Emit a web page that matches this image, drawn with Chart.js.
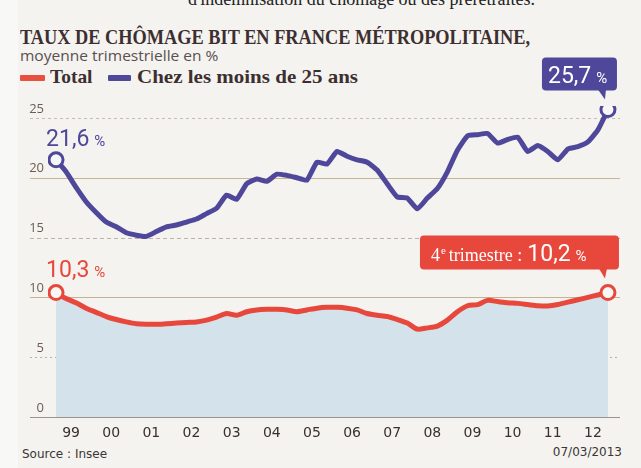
<!DOCTYPE html>
<html>
<head>
<meta charset="utf-8">
<script src="https://cdn.jsdelivr.net/npm/chart.js@4.4.1/dist/chart.umd.min.js"></script>
<style>
  html, body { margin: 0; padding: 0; }
  body { width: 641px; height: 468px; background: #f4f3ef; position: relative; overflow: hidden; }
  #strip { position: absolute; left: 0; top: 0; width: 18px; height: 468px; background: #f8f8f6; }
  #cut { position: absolute; left: 0; width: 641px; top: -11px; text-align: center; padding-left: 82px; box-sizing: border-box;
         font: 18px "Liberation Serif", serif; color: #222; white-space: nowrap; }
  #title { position: absolute; left: 20px; top: 25px; font: bold 21px "Liberation Serif", serif; color: #3d2f2f;
           white-space: nowrap; transform-origin: 0 0; }
  #subtitle { position: absolute; left: 20px; top: 46px; font: 14.5px "Open Sans", sans-serif; color: #5a5050; white-space: nowrap;
              transform-origin: 0 0; }
  .leg { position: absolute; top: 66px; font: bold 19px "Liberation Serif", serif; color: #3d2f2f; white-space: nowrap;
         transform-origin: 0 0; }
  .sw { position: absolute; top: 75px; height: 6px; border-radius: 1px; }
  #src { position: absolute; left: 22px; top: 447px; font: 12px "DejaVu Sans", sans-serif; color: #3b3535; }
  #date { position: absolute; right: 19px; top: 445px; font: 12px "DejaVu Sans", sans-serif; color: #3b3535; }
  canvas { position: absolute; left: 0; top: 0; }
</style>
</head>
<body>
<div id="strip"></div>
<div id="cut">d'indemnisation du chômage ou des préretraites.</div>
<div id="title">TAUX DE CHÔMAGE BIT EN FRANCE MÉTROPOLITAINE,</div>
<div id="subtitle">moyenne trimestrielle en %</div>
<div class="sw" style="left:20px;width:25px;background:#e8503f"></div>
<div class="leg" id="legTotal" style="left:50px">Total</div>
<div class="sw" style="left:108px;width:23px;background:#4f4a98"></div>
<div class="leg" id="legYouth" style="left:137px">Chez les moins de 25 ans</div>
<div id="src">Source : Insee</div>
<div id="date">07/03/2013</div>
<canvas id="chart" width="641" height="468"></canvas>
<script>
const years = [1999, 2000, 2001, 2002, 2003, 2004, 2005, 2006, 2007, 2008, 2009, 2010, 2011, 2012];
const yearLabels = ['99', '00', '01', '02', '03', '04', '05', '06', '07', '08', '09', '10', '11', '12'];
const quarters = [];
years.forEach(y => { for (let q = 1; q <= 4; q++) quarters.push(y + ' T' + q); });

// taux de chômage, ensemble
const total = [
    10.4, 9.9, 9.55, 9.1, 8.75, 8.4, 8.15, 7.95, 7.8, 7.75, 7.75, 7.8, 7.85, 7.9,
    7.95, 8.1, 8.35, 8.65, 8.5, 8.8, 8.95, 9.0, 9.0, 8.95, 8.8, 8.95, 9.1, 9.17,
    9.17, 9.1, 8.95, 8.65, 8.5, 8.4, 8.15, 7.85, 7.35, 7.45, 7.6, 8.1, 8.8, 9.3,
    9.4, 9.75, 9.65, 9.55, 9.5, 9.4, 9.3, 9.28, 9.4, 9.6, 9.8, 10.0, 10.2, 10.4
];
// moins de 25 ans
const youth = [
    21.5, 20.5, 19.2, 18.0, 17.1, 16.3, 15.9, 15.4, 15.2, 15.1, 15.5, 15.9, 16.05, 16.3,
    16.55, 17.0, 17.45, 18.55, 18.2, 19.5, 19.9, 19.7, 20.3, 20.2, 20.0, 19.8, 21.3, 21.15,
    22.2, 21.8, 21.5, 21.3, 20.65, 19.5, 18.4, 18.3, 17.4, 18.3, 19.1, 20.5, 22.3, 23.5,
    23.6, 23.7, 22.9, 23.2, 23.4, 22.2, 22.7, 22.2, 21.5, 22.4, 22.6, 23.0, 24.0, 25.7
];
const yTicks = [0, 5, 10, 15, 20, 25];
const firstLabels = { total: '10,3', youth: '21,6' };
const lastLabels = { total: '10,2', youth: '25,7' };

const RED = '#e8473c';
const BLUE = '#4f4799';

// squeeze the header texts to the widths of the print
function fitWidth(id, w) {
    const el = document.getElementById(id);
    el.style.transform = 'scaleX(' + (w / el.offsetWidth) + ')';
}
fitWidth('title', 510);
fitWidth('subtitle', 198);
fitWidth('legTotal', 43);
fitWidth('legYouth', 221);

function qx(label) {
    const [y, q] = label.split(' T');
    return +y + (q - 1) / 4;
}
const toPoints = arr => arr.map((v, i) => ({ x: qx(quarters[i]), y: v }));
const endsOnly = n => ctx => (ctx.dataIndex === 0 || ctx.dataIndex === n - 1) ? 7 : 0;

// grid lines in the paper's mixed styles
const gridPlugin = {
    id: 'paperGrid',
    beforeDatasetsDraw(chart) {
        const { ctx, chartArea, scales } = chart;
        const styles = {
            0: { c: '#9c948c', d: [] },
            5: { c: '#b9b1a7', d: [2, 3] },
            10: { c: '#c4b291', d: [] },
            15: { c: '#bcb3a8', d: [4, 3] },
            20: { c: '#c9b591', d: [] },
            25: { c: '#c6bdb2', d: [3, 3] },
        };
        ctx.save();
        yTicks.forEach(v => {
            const y = Math.round(scales.y.getPixelForValue(v)) + 0.5;
            const s = styles[v];
            ctx.strokeStyle = s.c;
            ctx.setLineDash(s.d);
            ctx.lineWidth = 1;
            ctx.beginPath();
            ctx.moveTo(30, y);
            ctx.lineTo(chartArea.right, y);
            ctx.stroke();
        });
        ctx.restore();
    }
};

function roundRect(ctx, x, y, w, h, r) {
    ctx.beginPath();
    ctx.moveTo(x + r, y);
    ctx.arcTo(x + w, y, x + w, y + h, r);
    ctx.arcTo(x + w, y + h, x, y + h, r);
    ctx.arcTo(x, y + h, x, y, r);
    ctx.arcTo(x, y, x + w, y, r);
    ctx.closePath();
}

const labelPlugin = {
    id: 'endLabels',
    afterDatasetsDraw(chart) {
        const ctx = chart.ctx;
        const red = chart.getDatasetMeta(0).data;
        const blue = chart.getDatasetMeta(1).data;
        ctx.save();
        ctx.textBaseline = 'alphabetic';

        // first values
        const big = '23px Roboto, sans-serif';
        const small = '15px Roboto, sans-serif';
        [[blue[0], firstLabels.youth, BLUE, 14], [red[0], firstLabels.total, RED, 16]].forEach(([p, txt, col, dy]) => {
            ctx.fillStyle = col;
            ctx.font = big;
            ctx.fillText(txt, p.x - 10, p.y - dy);
            const w = ctx.measureText(txt).width;
            ctx.font = small;
            ctx.fillText('%', p.x - 10 + w + 5, p.y - dy);
        });

        // last value callouts
        const pb = blue[blue.length - 1];
        ctx.fillStyle = BLUE;
        roundRect(ctx, pb.x - 66, pb.y - 52, 75, 33, 4);
        ctx.fill();
        ctx.beginPath();
        ctx.moveTo(pb.x - 10, pb.y - 20);
        ctx.lineTo(pb.x - 2, pb.y - 20);
        ctx.lineTo(pb.x - 3, pb.y - 10);
        ctx.closePath();
        ctx.fill();
        ctx.fillStyle = '#fff';
        ctx.font = big;
        ctx.fillText(lastLabels.youth, pb.x - 60, pb.y - 27);
        let w = ctx.measureText(lastLabels.youth).width;
        ctx.font = small;
        ctx.fillText('%', pb.x - 60 + w + 5, pb.y - 27);

        const pr = red[red.length - 1];
        ctx.fillStyle = RED;
        roundRect(ctx, pr.x - 188, pr.y - 57, 199, 34, 4);
        ctx.fill();
        ctx.beginPath();
        ctx.moveTo(pr.x - 9, pr.y - 24);
        ctx.lineTo(pr.x - 1, pr.y - 24);
        ctx.lineTo(pr.x - 3, pr.y - 14);
        ctx.closePath();
        ctx.fill();
        ctx.fillStyle = '#fff';
        let x = pr.x - 177;
        ctx.font = '18px "Liberation Serif", serif';
        ctx.fillText('4', x, pr.y - 32);
        x += ctx.measureText('4').width + 1;
        ctx.font = '11px "Liberation Serif", serif';
        ctx.fillText('e', x, pr.y - 39);
        x += ctx.measureText('e').width + 3;
        ctx.font = '18px "Liberation Serif", serif';
        ctx.fillText('trimestre :', x, pr.y - 32);
        x += ctx.measureText('trimestre :').width + 5;
        ctx.font = big;
        ctx.fillText(lastLabels.total, x, pr.y - 32);
        w = ctx.measureText(lastLabels.total).width;
        ctx.font = small;
        ctx.fillText('%', x + w + 5, pr.y - 32);
        ctx.restore();
    }
};

new Chart(document.getElementById('chart'), {
    type: 'line',
    data: {
        datasets: [
            {
                label: 'Total',
                data: toPoints(total),
                borderColor: RED,
                borderWidth: 5,
                backgroundColor: '#d4e3eb',
                fill: 'origin',
                tension: 0.25,
                pointRadius: endsOnly(total.length),
                pointBorderWidth: 3,
                pointBackgroundColor: '#f7f7f5',
                pointBorderColor: RED,
            },
            {
                label: 'Chez les moins de 25 ans',
                data: toPoints(youth),
                borderColor: BLUE,
                borderWidth: 5,
                fill: false,
                tension: 0.15,
                pointRadius: endsOnly(youth.length),
                pointBorderWidth: 3,
                pointBackgroundColor: '#f7f7f5',
                pointBorderColor: BLUE,
            },
        ],
    },
    options: {
        responsive: false,
        animation: false,
        layout: { padding: { top: 106, right: 21, left: 0, bottom: 0 } },
        plugins: { legend: { display: false }, tooltip: { enabled: false } },
        scales: {
            x: {
                type: 'linear',
                min: 1998.8,
                max: 2013.05,
                grid: { display: false, drawTicks: false },
                border: { display: false },
                afterBuildTicks: scale => { scale.ticks = years.map(y => ({ value: y + 0.375 })); },
                afterFit: scale => { scale.height = 51; },
                ticks: {
                    autoSkip: false,
                    maxRotation: 0,
                    padding: 8,
                    color: '#3a3030',
                    font: { family: 'DejaVu Sans', size: 14 },
                    callback: (v, i) => yearLabels[i],
                },
            },
            y: {
                min: 0,
                max: 26,
                grid: { display: false, drawTicks: false },
                border: { display: false },
                afterBuildTicks: scale => { scale.ticks = yTicks.map(v => ({ value: v })); },
                afterFit: scale => { scale.width = 48; },
                ticks: {
                    padding: 4,
                    labelOffset: -9,
                    color: '#6b5d52',
                    font: { family: 'Open Sans', size: 13 },
                },
            },
        },
    },
    plugins: [gridPlugin, labelPlugin],
});
</script>
</body>
</html>
